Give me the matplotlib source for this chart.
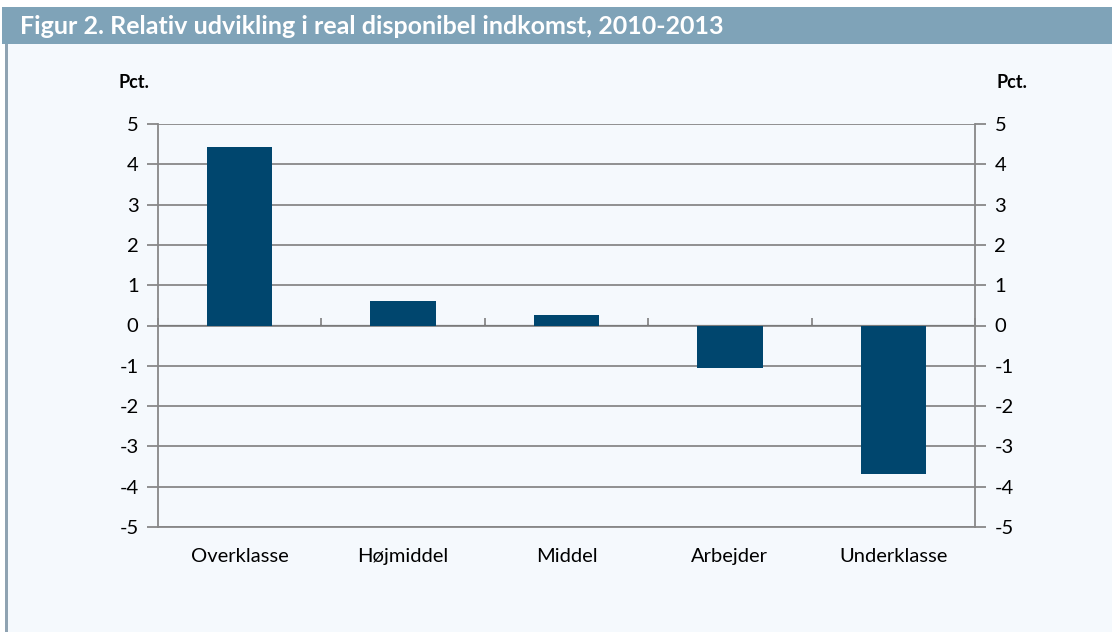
import matplotlib.pyplot as plt
import matplotlib.patches as mpatches
import numpy as np

categories = ["Overklasse", "Højmiddel", "Middel", "Arbejder", "Underklasse"]
values = [4.44, 0.60, 0.25, -1.05, -3.68]
yticks = [5, 4, 3, 2, 1, 0, -1, -2, -3, -4, -5]
title = "Figur 2. Relativ udvikling i real disponibel indkomst, 2010-2013"

bar_color = "#00466e"
header_color = "#7fa3b8"
bg_color = "#f5f9fd"
grid_color = "#888888"

plt.rcParams["font.family"] = ["Lato", "DejaVu Sans"]

fig = plt.figure(figsize=(11.12, 6.32), dpi=100)
fig.patch.set_facecolor("white")

# background panel, header band and left stripe
fig.patches.append(mpatches.Rectangle((0.005, 0), 0.995, 1 - 44 / 632, transform=fig.transFigure,
                                      facecolor=bg_color, edgecolor="none", zorder=-10))
fig.patches.append(mpatches.Rectangle((0.002, 1 - 44 / 632), 0.998, 37 / 632, transform=fig.transFigure,
                                      facecolor=header_color, edgecolor="none", zorder=-10))
fig.patches.append(mpatches.Rectangle((5 / 1112, 0), 3 / 1112, 1 - 44 / 632, transform=fig.transFigure,
                                      facecolor="#8fa3b2", edgecolor="none", zorder=-9))
fig.text(20 / 1112, 1 - 26 / 632, title, color="white", fontsize=18, fontweight="bold",
         va="center", ha="left")

ax = fig.add_axes([158 / 1112, 1 - 527 / 632, 817 / 1112, 403 / 632])
ax.set_facecolor("none")

x = np.arange(len(categories))
ax.bar(x, values, width=0.4, color=bar_color, zorder=3)

ax.set_xlim(-0.5, len(categories) - 0.5)
ax.set_ylim(-5, 5)
ax.set_yticks(yticks)
ax.set_yticklabels([str(v) for v in yticks])
ax.yaxis.grid(True, color=grid_color, linewidth=1.3, zorder=1)
ax.set_axisbelow(True)

ax.spines["top"].set_visible(False)
for side in ["left", "right", "bottom"]:
    ax.spines[side].set_color(grid_color)
    ax.spines[side].set_linewidth(1.3)

ax.set_xticks(x)
ax.set_xticklabels(categories, fontsize=14.5)
ax.tick_params(axis="x", length=0, pad=15)
ax.tick_params(axis="y", left=True, right=True, labelleft=True, labelright=True,
               direction="out", length=8, width=1.3, color=grid_color, labelsize=14.5, pad=6)

# category boundary ticks on the zero line
zero_ax = ax.secondary_xaxis(0.5)
zero_ax.set_xticks(np.arange(len(categories) + 1) - 0.5)
zero_ax.tick_params(axis="x", direction="out", length=5, width=1.3, color=grid_color,
                    labelbottom=False)
zero_ax.spines["bottom"].set_color(grid_color)
zero_ax.spines["bottom"].set_linewidth(1.3)
zero_ax.set_xticklabels([])

fig.text(118 / 1112, 1 - 82 / 632, "Pct.", fontsize=13, fontweight="bold", ha="left", va="center")
fig.text(996 / 1112, 1 - 82 / 632, "Pct.", fontsize=13, fontweight="bold", ha="left", va="center")

fig.savefig("out.png", dpi=100, facecolor=fig.get_facecolor())
